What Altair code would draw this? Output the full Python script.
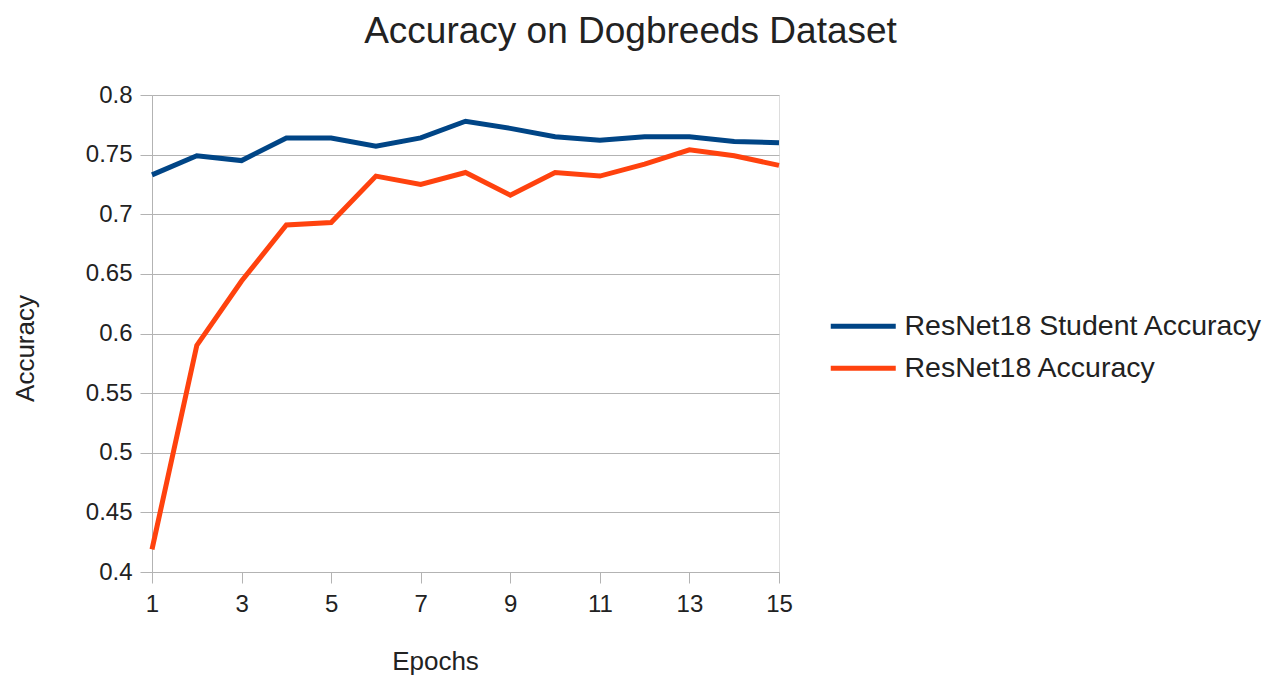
import altair as alt
import pandas as pd

epochs = list(range(1, 16))
student_acc = [0.733, 0.749, 0.745, 0.764, 0.764, 0.757, 0.764, 0.778, 0.772,
               0.765, 0.762, 0.765, 0.765, 0.761, 0.760]
resnet_acc = [0.419, 0.590, 0.644, 0.691, 0.693, 0.732, 0.725, 0.735, 0.716,
              0.735, 0.732, 0.742, 0.754, 0.749, 0.741]
series_names = ["ResNet18 Student Accuracy", "ResNet18 Accuracy"]
series_colors = ["#004586", "#ff420e"]
y_ticks = [0.4, 0.45, 0.5, 0.55, 0.6, 0.65, 0.7, 0.75, 0.8]
x_ticks = [1, 3, 5, 7, 9, 11, 13, 15]

rows = []
for name, vals in zip(series_names, [student_acc, resnet_acc]):
    for e, v in zip(epochs, vals):
        rows.append({"Epoch": e, "Accuracy": v, "Series": name})
df = pd.DataFrame(rows)

FONT = "Liberation Sans"
GRID = "#b3b3b3"
TEXT = "#222222"

chart = (
    alt.Chart(df)
    .mark_line(strokeWidth=5, strokeJoin="miter", strokeCap="butt")
    .encode(
        x=alt.X(
            "Epoch:Q",
            scale=alt.Scale(domain=[1, 15], nice=False, zero=False),
            axis=alt.Axis(
                values=x_ticks, grid=False, title="Epochs", labelFontSize=24,
                titleFontSize=26, titleFontWeight="normal", labelPadding=9,
                labelFlush=False, labelBound=False,
                tickSize=11, tickColor=GRID, domainColor=GRID,
                titleX=283, titleY=89, titleBaseline="middle",
                labelColor=TEXT, titleColor=TEXT,
            ),
        ),
        y=alt.Y(
            "Accuracy:Q",
            scale=alt.Scale(domain=[0.4, 0.8], nice=False, zero=False),
            axis=alt.Axis(
                values=y_ticks, format="~g", title="Accuracy", labelFontSize=24,
                titleFontSize=26, titleFontWeight="normal", labelPadding=8,
                labelFlush=False,
                tickSize=12, tickColor=GRID, domainColor=GRID, gridColor=GRID,
                titleX=-127, titleY=253, titleBaseline="middle", titleAngle=-90,
                labelColor=TEXT, titleColor=TEXT,
            ),
        ),
        color=alt.Color(
            "Series:N",
            scale=alt.Scale(domain=series_names, range=series_colors),
            legend=alt.Legend(
                title=None, orient="none", legendX=697, legendY=217,
                symbolType="M-3.25,0H3.25", symbolSize=400, symbolStrokeWidth=5,
                labelFontSize=28.5, labelFont=FONT, labelColor=TEXT,
                rowPadding=13, labelOffset=27, labelLimit=500,
            ),
        ),
    )
    .properties(
        width=627,
        height=477,
        padding={"left": 152, "top": 95, "right": 490, "bottom": 105},
        autosize=alt.AutoSizeParams(type="none"),
        title=alt.TitleParams(
            "Accuracy on Dogbreeds Dataset", fontSize=37, fontWeight="normal",
            font=FONT, color=TEXT, dx=165, offset=32, anchor="middle",
        ),
    )
    .configure_view(stroke=GRID, strokeWidth=1)
    .configure_axis(labelFont=FONT, titleFont=FONT)
    .configure(background="white")
)

chart.save("out.html", embed_options={"renderer": "svg", "actions": False})
